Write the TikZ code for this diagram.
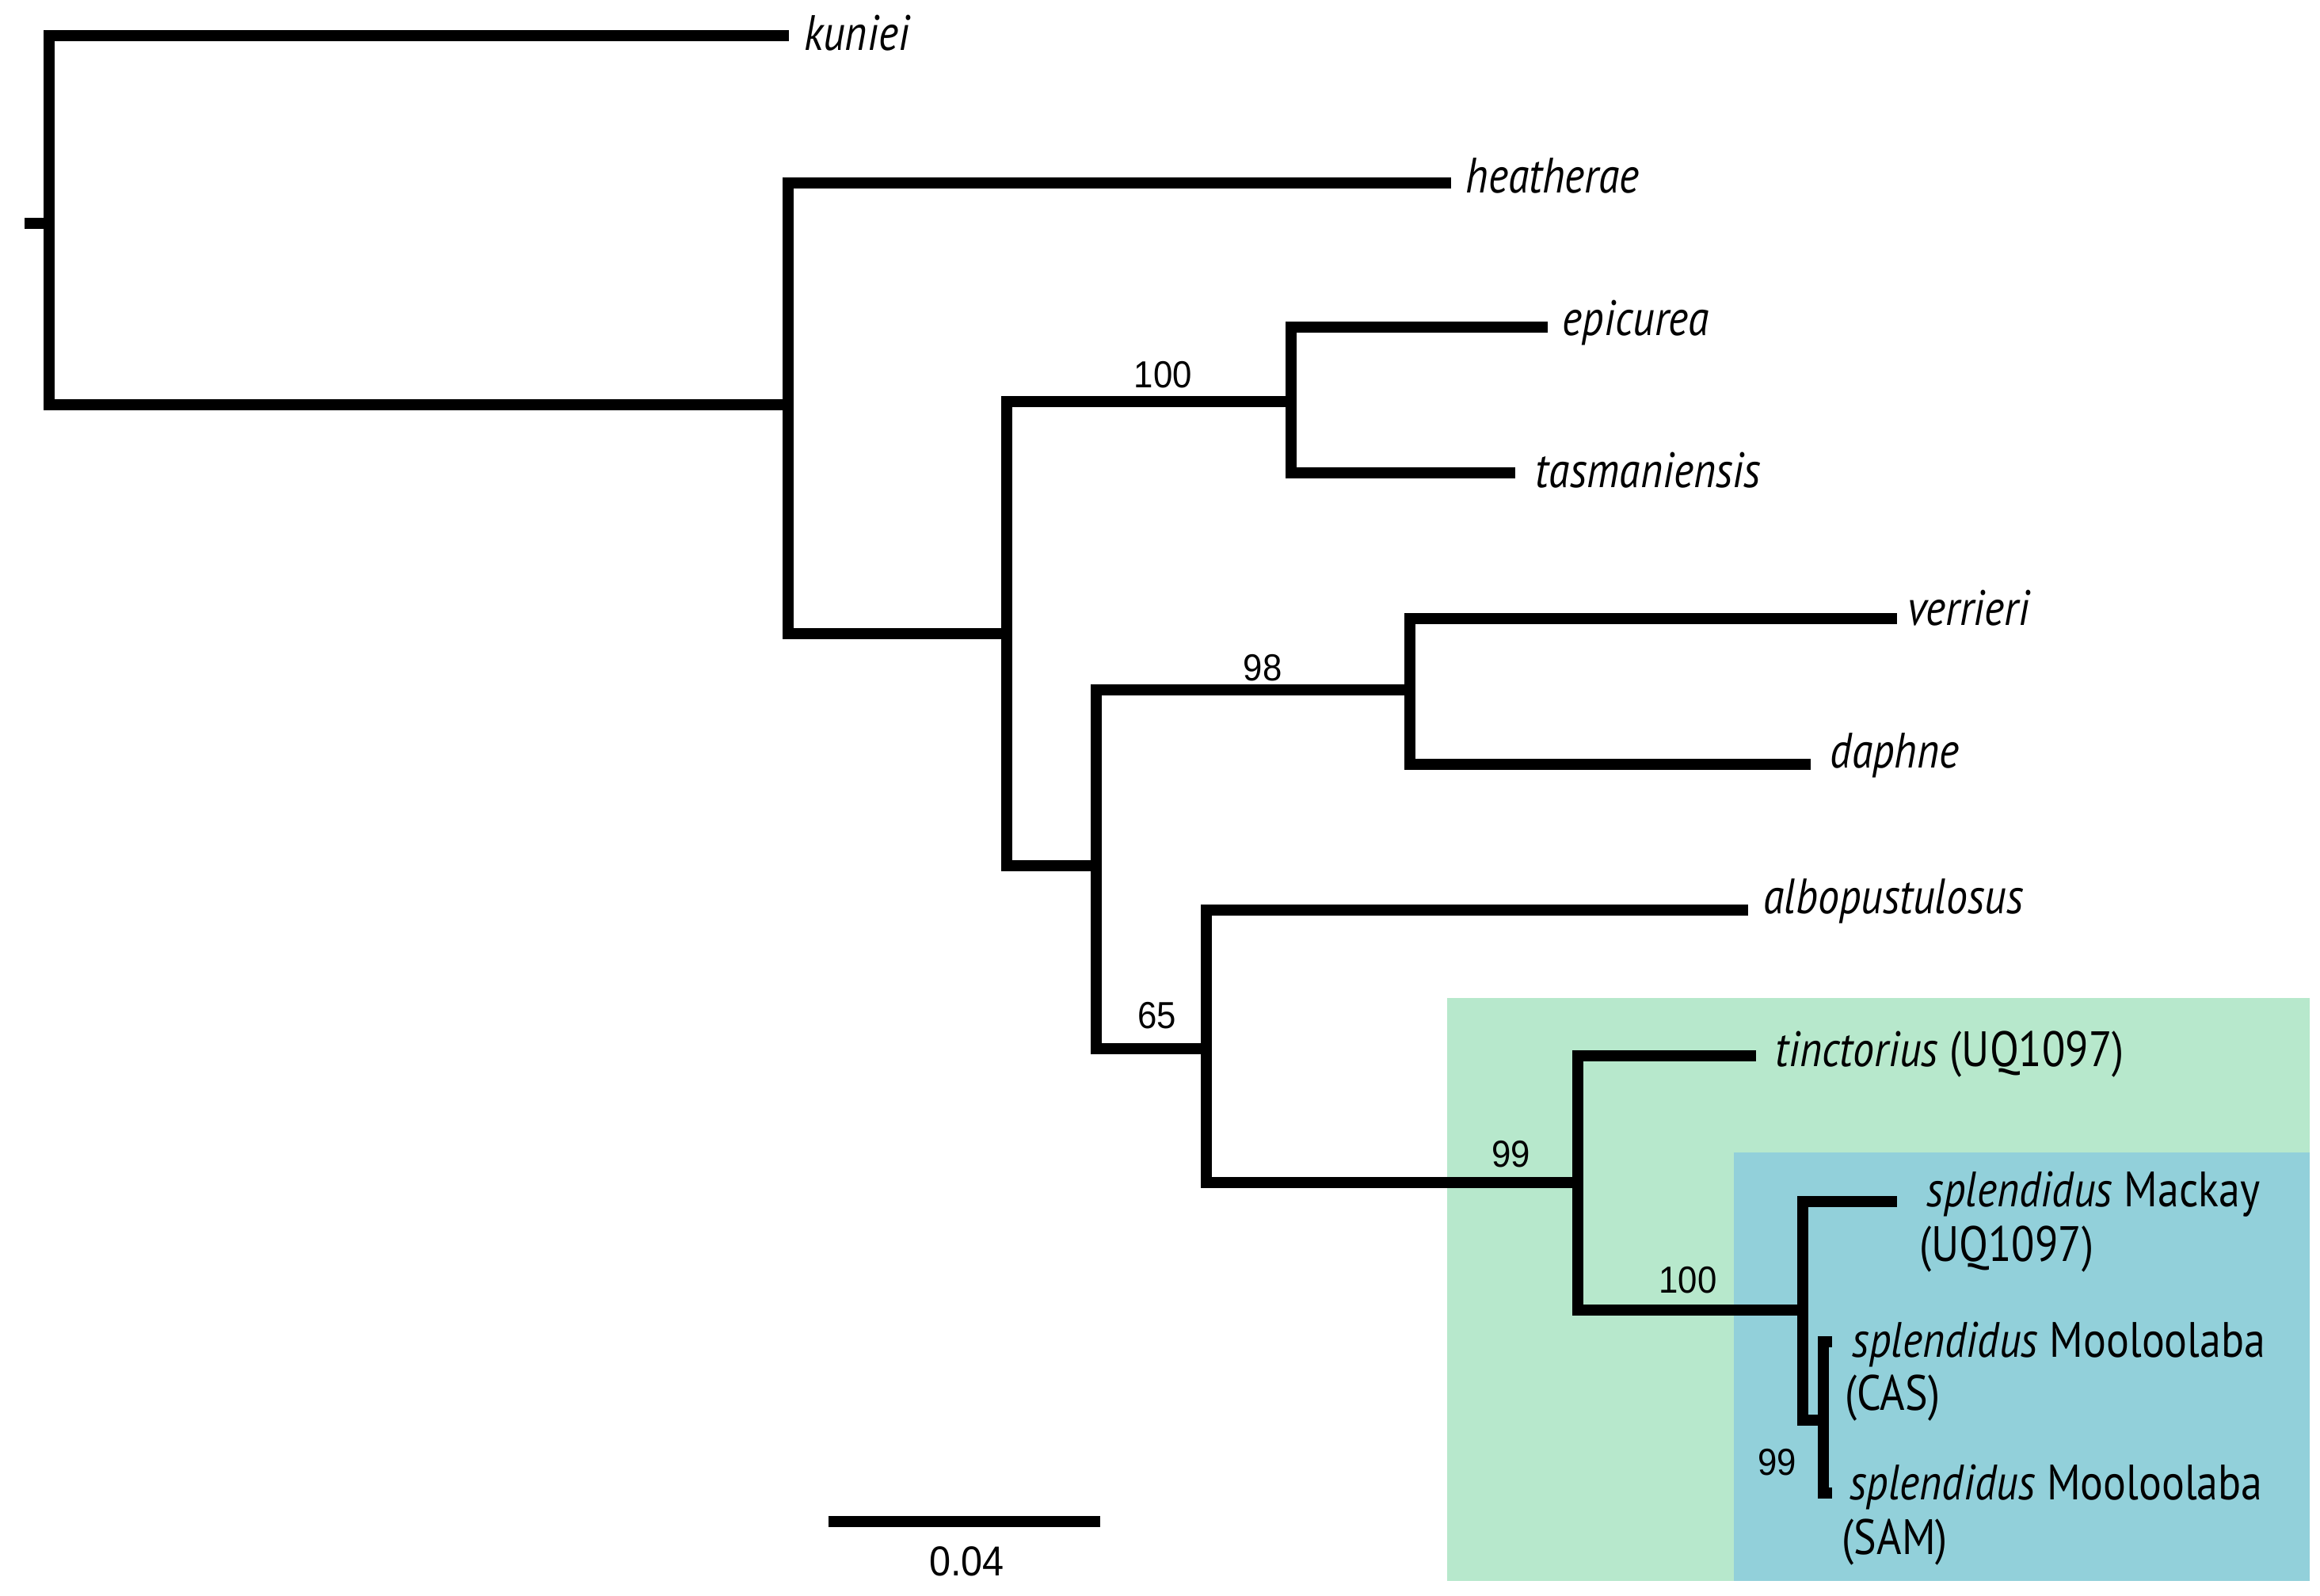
\documentclass[tikz,border=0pt]{standalone}
\usepackage{fontspec}
\setmainfont{PT Sans}[FakeStretch=0.86]
\newfontfamily\numfont{Liberation Sans}[FakeStretch=0.92]
\begin{document}
\begin{tikzpicture}[x=0.01cm,y=-0.01cm,
  br/.style={line width=2.1pt,line cap=rect},
  tip/.style={anchor=west,inner sep=0pt,font=\fontsize{9.5}{11}\selectfont},
  bs/.style={inner sep=0pt,font=\numfont\fontsize{7.2}{9}\selectfont}]
\useasboundingbox (0,0) rectangle (1560,1073);
\fill[fill={rgb,255:red,183;green,232;blue,204}] (973,671) rectangle (1553,1063);
\fill[fill={rgb,255:red,146;green,208;blue,218}] (1166,775) rectangle (1553,1063);
% internal nodes
\coordinate (r0) at (20,150);
\coordinate (R) at (33,150);
\coordinate (A) at (530,272);
\coordinate (B) at (677,426);
\coordinate (C) at (868,270);
\coordinate (D) at (737,582);
\coordinate (E) at (948,464);
\coordinate (F) at (811,705);
\coordinate (G) at (1061,795);
\coordinate (H) at (1212,881);
\coordinate (I) at (1226,951);
% tips
\coordinate (t1) at (527,24);
\coordinate (t2) at (972,123);
\coordinate (t3) at (1037,220);
\coordinate (t4) at (1015,318);
\coordinate (t5) at (1272,416);
\coordinate (t6) at (1214,514);
\coordinate (t7) at (1172,612);
\coordinate (t8) at (1177,710);
\coordinate (t9) at (1272,808);
\coordinate (t10) at (1228,902);
\coordinate (t11) at (1228,1004);
% branches
\draw[br] (r0) -- (R);
\draw[br] (t1) -| (R) |- (A);
\draw[br] (t2) -| (A) |- (B);
\draw[br] (C) -| (B) |- (D);
\draw[br] (t3) -| (C) |- (t4);
\draw[br] (E) -| (D) |- (F);
\draw[br] (t5) -| (E) |- (t6);
\draw[br] (t7) -| (F) |- (G);
\draw[br] (t8) -| (G) |- (H);
\draw[br] (t9) -| (H) -- ++(0,74) -| (I);
\draw[br] (t10) -| (I) |- (t11);
% labels
\node[tip] (l1) at (540,22) {\itshape kuniei};
\node[tip] (l2) at (985,118) {\itshape heatherae};
\node[tip] (l3) at (1050,217) {\itshape epicurea};
\node[tip] (l4) at (1032,316) {\itshape tasmaniensis};
\node[tip] (l5) at (1282,409) {\itshape verrieri};
\node[tip] (l6) at (1230,508) {\itshape daphne};
\node[tip] (l7) at (1185,606) {\itshape albopustulosus};
\node[tip] (l8) at (1193,709) {\itshape tinctorius\upshape{} (UQ1097)};
\node[tip] (l9) at (1295,803) {\itshape splendidus\upshape{} Mackay};
\node[tip] (l9b) at (1290,840) {(UQ1097)};
\node[tip] (l10) at (1245,904) {\itshape splendidus\upshape{} Mooloolaba};
\node[tip] (l10b) at (1240,940) {(CAS)};
\node[tip] (l11) at (1243,1000) {\itshape splendidus\upshape{} Mooloolaba};
\node[tip] (l11b) at (1238,1037) {(SAM)};
% bootstrap
\node[bs] (b1) at (782,252) {100};
\node[bs] (b2) at (849,449) {98};
\node[bs] (b3) at (778,683) {65};
\node[bs] (b4) at (1016,776) {99};
\node[bs] (b5) at (1135,861) {100};
\node[bs] (b6) at (1195,983) {99};
% scale bar
\coordinate (s1) at (557,1023);
\coordinate (s2) at (740,1023);
\draw[br,line cap=butt] (s1) -- (s2);
\node[bs,font=\numfont\fontsize{8}{9}\selectfont] (sl) at (650,1050) {0.04};
\end{tikzpicture}
\end{document}
